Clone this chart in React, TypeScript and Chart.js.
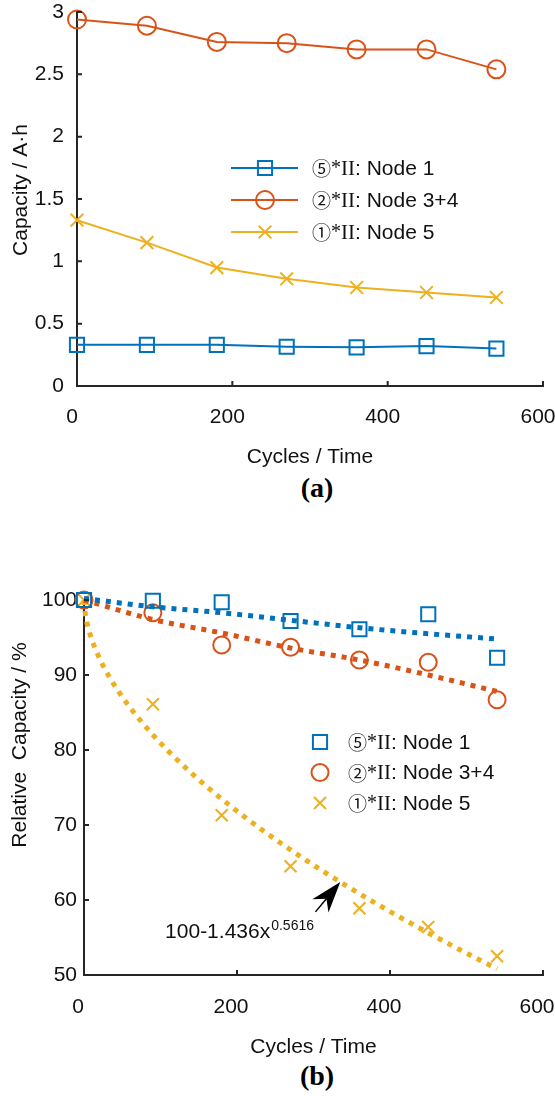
import { useEffect, useRef } from 'react';
import { Chart, registerables } from 'chart.js';

Chart.register(...registerables);

// Cycle count at each capacity check
const cycles = [0, 90, 180, 270, 360, 450, 540];

// Absolute capacity (A·h)
const capacityNode1 = [0.33, 0.33, 0.33, 0.315, 0.31, 0.32, 0.3];
const capacityNode34 = [2.94, 2.89, 2.76, 2.75, 2.7, 2.7, 2.54];
const capacityNode5 = [1.33, 1.15, 0.95, 0.86, 0.79, 0.75, 0.71];

// Relative capacity (%)
const relativeNode1 = [100, 99.9, 99.7, 97.2, 96.1, 98.1, 92.3];
const relativeNode34 = [100, 98.3, 94.0, 93.7, 92.0, 91.7, 86.7];
const relativeNode5 = [100, 86.1, 71.3, 64.5, 58.9, 56.4, 52.5];

// Trend lines for nodes 1 and 3+4 (%)
const trendNode1 = [100.2, 99.1, 98.3, 97.3, 96.3, 95.5, 94.8];
const trendNode34 = [100, 97.4, 95.6, 93.6, 92.0, 90.0, 87.8];

// Power-law fit for node 5: 100 - a·x^b
const fitCoefficient = 1.436;
const fitExponent = 0.5616;
const fitStep = 2;

// Axis ticks
const cycleTicks = [0, 200, 400, 600];
const capacityTicks = [0, 0.5, 1, 1.5, 2, 2.5, 3];
const relativeTicks = [50, 60, 70, 80, 90, 100];

// Series key text
const seriesDigits = ['⑤', '②', '①'];
const seriesRoman = 'II';
const seriesNodes = ['Node 1', 'Node 3+4', 'Node 5'];

const BLUE = '#0072BD';
const ORANGE = '#D95319';
const YELLOW = '#EDB120';
const AXIS = '#262626';
const TEXT = '#111111';
const SANS = "'Liberation Sans', Arial, sans-serif";
const SERIF = "'Liberation Serif', 'Times New Roman', serif";
const CJK = "'Noto Sans CJK SC', 'DejaVu Sans', sans-serif";

const toPoints = (ys: number[]) => cycles.map((x, i) => ({ x, y: ys[i] }));

const fitPoints: { x: number; y: number }[] = [];
for (let x = 0; x <= cycles[cycles.length - 1]; x += fitStep) {
  fitPoints.push({ x, y: 100 - fitCoefficient * Math.pow(x, fitExponent) });
}

const seriesColors = [BLUE, ORANGE, YELLOW];
const seriesStyles = ['rect', 'circle', 'crossRot'];

function drawMark(ctx: CanvasRenderingContext2D, style: string, x: number, y: number, r: number, color: string, lw: number) {
  ctx.save();
  ctx.strokeStyle = color;
  ctx.lineWidth = lw;
  ctx.beginPath();
  const s = r * Math.SQRT1_2;
  if (style === 'rect') {
    ctx.rect(x - s, y - s, 2 * s, 2 * s);
  } else if (style === 'circle') {
    ctx.arc(x, y, r, 0, Math.PI * 2);
  } else {
    ctx.moveTo(x - s, y - s);
    ctx.lineTo(x + s, y + s);
    ctx.moveTo(x - s, y + s);
    ctx.lineTo(x + s, y - s);
  }
  ctx.stroke();
  ctx.restore();
}

// Short tick marks pointing into the plot area
const inwardTicks = {
  id: 'inwardTicks',
  afterDatasetsDraw(chart: any, _args: any, opts: any) {
    const { ctx, chartArea, scales } = chart;
    const len = opts.length ?? 5;
    ctx.save();
    ctx.strokeStyle = AXIS;
    ctx.lineWidth = 2;
    ctx.beginPath();
    scales.x.ticks.forEach((t: any) => {
      const px = scales.x.getPixelForValue(t.value);
      ctx.moveTo(px, chartArea.bottom);
      ctx.lineTo(px, chartArea.bottom - len);
    });
    scales.y.ticks.forEach((t: any) => {
      const py = scales.y.getPixelForValue(t.value);
      ctx.moveTo(chartArea.left, py);
      ctx.lineTo(chartArea.left + len, py);
    });
    ctx.stroke();
    ctx.restore();
  },
};

// Rotated y-axis title
const sideTitle = {
  id: 'sideTitle',
  afterDraw(chart: any, _args: any, opts: any) {
    const { ctx } = chart;
    ctx.save();
    ctx.translate(opts.x, opts.y);
    ctx.rotate(-Math.PI / 2);
    ctx.font = `21px ${SANS}`;
    ctx.fillStyle = TEXT;
    ctx.textAlign = 'center';
    ctx.textBaseline = 'middle';
    ctx.fillText(opts.text, 0, 0);
    ctx.restore();
  },
};

// Series key with mixed-font labels
const seriesKey = {
  id: 'seriesKey',
  afterDraw(chart: any, _args: any, opts: any) {
    const { ctx } = chart;
    ctx.save();
    ctx.textBaseline = 'middle';
    ctx.fillStyle = TEXT;
    seriesNodes.forEach((node, i) => {
      const y = opts.y + i * opts.rowGap;
      const color = seriesColors[i];
      if (opts.lineFrom !== undefined) {
        ctx.strokeStyle = color;
        ctx.lineWidth = 2;
        ctx.beginPath();
        ctx.moveTo(opts.lineFrom, y);
        ctx.lineTo(opts.lineTo, y);
        ctx.stroke();
      }
      drawMark(ctx, seriesStyles[i], opts.markX, y, opts.radii[i], color, 2);
      const parts = [
        { t: seriesDigits[i], f: `19px ${CJK}` },
        { t: '*', f: `20px ${SERIF}` },
        { t: seriesRoman, f: `21px ${SERIF}` },
        { t: ': ' + node, f: `21px ${SANS}` },
      ];
      let x = opts.textX;
      parts.forEach((p) => {
        ctx.font = p.f;
        ctx.fillText(p.t, x, y + 1);
        x += ctx.measureText(p.t).width;
      });
    });
    ctx.restore();
  },
};

// Formula note with arrow pointing at the fitted curve
const fitNote = {
  id: 'fitNote',
  afterDraw(chart: any, _args: any, opts: any) {
    const { ctx, scales } = chart;
    const xs = scales.x;
    const ys = scales.y;
    ctx.save();
    ctx.fillStyle = TEXT;
    ctx.textBaseline = 'alphabetic';
    ctx.font = `21px ${SANS}`;
    const tx = xs.getPixelForValue(opts.textX);
    const ty = ys.getPixelForValue(opts.textY);
    ctx.fillText(opts.text, tx, ty);
    const w = ctx.measureText(opts.text).width;
    ctx.font = `14px ${SANS}`;
    ctx.fillText(opts.sup, tx + w + 1, ty - 8);

    const tipX = xs.getPixelForValue(opts.tipX);
    const tipY = ys.getPixelForValue(100 - fitCoefficient * Math.pow(opts.tipX, fitExponent));
    const dx = 0.64;
    const dy = -0.77;
    const nx = -dy;
    const ny = dx;
    const L = 31;
    const W = 10.5;
    const bx = tipX - L * dx;
    const by = tipY - L * dy;
    ctx.fillStyle = '#000';
    ctx.strokeStyle = '#000';
    ctx.beginPath();
    ctx.moveTo(tipX, tipY);
    ctx.lineTo(bx - W * nx, by - W * ny);
    ctx.lineTo(tipX - 0.7 * L * dx, tipY - 0.7 * L * dy);
    ctx.lineTo(bx + W * nx, by + W * ny);
    ctx.closePath();
    ctx.fill();
    ctx.lineWidth = 1.5;
    ctx.beginPath();
    ctx.moveTo(tipX - 0.7 * L * dx, tipY - 0.7 * L * dy);
    ctx.lineTo(tipX - 1.25 * L * dx, tipY - 1.25 * L * dy);
    ctx.stroke();
    ctx.restore();
  },
};

function cycleScale(height: number, labelOffset: number, padding: number) {
  return {
    type: 'linear',
    min: 0,
    max: 600,
    afterBuildTicks: (s: any) => {
      s.ticks = cycleTicks.map((v) => ({ value: v }));
    },
    afterFit: (s: any) => {
      s.height = height;
      s.paddingLeft = 0;
      s.paddingRight = 0;
    },
    grid: { drawOnChartArea: false, drawTicks: false },
    border: { color: AXIS, width: 2 },
    ticks: {
      font: { family: SANS, size: 21 },
      color: TEXT,
      padding,
      labelOffset,
      maxRotation: 0,
      autoSkip: false,
      callback: (v: any) => String(v),
    },
    title: {
      display: true,
      text: 'Cycles / Time',
      font: { family: SANS, size: 21 },
      color: TEXT,
      padding: { top: 11, bottom: 0 },
    },
  };
}

function valueScale(min: number, max: number, ticks: number[], width: number, padding: number) {
  return {
    type: 'linear',
    min,
    max,
    afterBuildTicks: (s: any) => {
      s.ticks = ticks.map((v) => ({ value: v }));
    },
    afterFit: (s: any) => {
      s.width = width;
      s.paddingTop = 0;
      s.paddingBottom = 0;
    },
    grid: { drawOnChartArea: false, drawTicks: false },
    border: { color: AXIS, width: 2 },
    ticks: {
      font: { family: SANS, size: 21 },
      color: TEXT,
      padding,
      autoSkip: false,
      callback: (v: any) => String(v),
    },
  };
}

const markerBase = {
  pointBackgroundColor: 'rgba(0,0,0,0)',
  pointBorderWidth: 2,
  clip: false,
};

function makeCapacityChart(canvas: HTMLCanvasElement) {
  const series = [capacityNode1, capacityNode34, capacityNode5];
  const radii = [10, 9, 9];
  return new Chart(canvas, {
    type: 'scatter',
    data: {
      datasets: series.map((ys, i) => ({
        ...markerBase,
        label: seriesNodes[i],
        data: toPoints(ys),
        showLine: true,
        borderColor: seriesColors[i],
        borderWidth: 2,
        pointStyle: seriesStyles[i],
        pointRadius: radii[i],
        pointBorderColor: seriesColors[i],
      })),
    },
    options: {
      animation: false,
      responsive: false,
      devicePixelRatio: 1,
      events: [],
      layout: { padding: { top: 12, right: 12, left: 0, bottom: 0 } },
      scales: {
        x: cycleScale(84, -5, 19),
        y: valueScale(0, 3, capacityTicks, 77, 13),
      },
      plugins: {
        legend: { display: false },
        tooltip: { enabled: false },
        inwardTicks: { length: 5 },
        sideTitle: { text: 'Capacity / A·h', x: 21, y: 190 },
        seriesKey: { y: 168, rowGap: 32, lineFrom: 231, lineTo: 298, markX: 265, textX: 312, radii },
      },
    } as any,
    plugins: [inwardTicks, sideTitle, seriesKey],
  } as any);
}

function makeRelativeChart(canvas: HTMLCanvasElement) {
  const series = [relativeNode1, relativeNode34, relativeNode5];
  const radii = [10, 8.5, 8.5];
  const dotted = {
    showLine: true,
    pointRadius: 0,
    borderWidth: 5,
    borderDash: [5, 6],
    borderCapStyle: 'butt',
    clip: false,
    order: 0,
  };
  return new Chart(canvas, {
    type: 'scatter',
    data: {
      datasets: [
        { ...dotted, label: 'Node 1 trend', data: toPoints(trendNode1), borderColor: BLUE, cubicInterpolationMode: 'monotone' },
        { ...dotted, label: 'Node 3+4 trend', data: toPoints(trendNode34), borderColor: ORANGE, cubicInterpolationMode: 'monotone' },
        { ...dotted, label: 'Node 5 fit', data: fitPoints, borderColor: YELLOW },
        ...series.map((ys, i) => ({
          ...markerBase,
          label: seriesNodes[i],
          data: toPoints(ys),
          showLine: false,
          pointStyle: seriesStyles[i],
          pointRadius: radii[i],
          pointBorderColor: seriesColors[i],
          order: 1,
        })),
      ],
    },
    options: {
      animation: false,
      responsive: false,
      devicePixelRatio: 1,
      events: [],
      layout: { padding: { top: 60, right: 12, left: 0, bottom: 0 } },
      scales: {
        x: cycleScale(85, -6, 20),
        y: valueScale(50, 100, relativeTicks, 84, 7),
      },
      plugins: {
        legend: { display: false },
        tooltip: { enabled: false },
        inwardTicks: { length: 5 },
        sideTitle: { text: 'Relative  Capacity / %', x: 20, y: 205 },
        seriesKey: { y: 202, rowGap: 30.5, markX: 320, textX: 348, radii },
        fitNote: { text: '100-1.436x', sup: '0.5616', textX: 106, textY: 54.9, tipX: 335 },
      },
    } as any,
    plugins: [inwardTicks, sideTitle, seriesKey, fitNote],
  } as any);
}

const captionStyle = (top: number): any => ({
  position: 'absolute',
  left: 317,
  top,
  transform: 'translate(-50%, -50%)',
  font: `bold 28px ${SERIF}`,
  lineHeight: 1,
  color: '#000',
});

export default function App() {
  const refA = useRef<HTMLCanvasElement>(null);
  const refB = useRef<HTMLCanvasElement>(null);

  useEffect(() => {
    const a = makeCapacityChart(refA.current!);
    const b = makeRelativeChart(refB.current!);
    return () => {
      a.destroy();
      b.destroy();
    };
  }, []);

  return (
    <div style={{ position: 'absolute', left: 0, top: 0, width: 555, height: 1096, background: '#fff', overflow: 'hidden' }}>
      <canvas ref={refA} width={555} height={470} style={{ position: 'absolute', left: 0, top: 0 }} />
      <div style={captionStyle(488)}>(a)</div>
      <canvas ref={refB} width={555} height={520} style={{ position: 'absolute', left: 0, top: 540 }} />
      <div style={captionStyle(1076)}>(b)</div>
    </div>
  );
}
